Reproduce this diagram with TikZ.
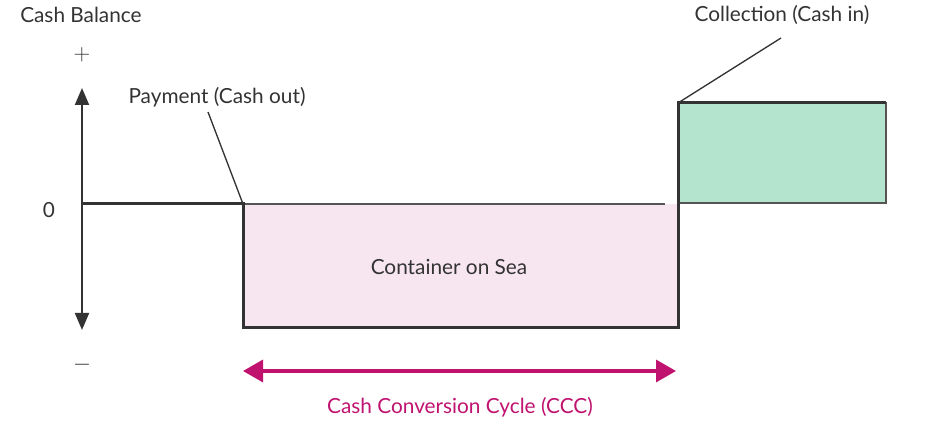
\documentclass[tikz,border=0pt]{standalone}
\usepackage{fontspec}
\setmainfont{Lato}
\usetikzlibrary{arrows.meta,positioning}
\definecolor{inkgray}{HTML}{333333}
\definecolor{edgegray}{HTML}{555555}
\definecolor{seapink}{HTML}{F7E6F0}
\definecolor{cashgreen}{HTML}{B5E4CE}
\definecolor{cccmagenta}{HTML}{C0126F}

\begin{document}
\begin{tikzpicture}[x=0.75pt,y=-0.75pt,
  lbl/.style={font=\fontsize{15.6}{18}\selectfont,text=inkgray,inner sep=0pt},
  sign/.style={font=\fontsize{17}{18}\selectfont,text=inkgray,inner sep=0pt},
  heavy/.style={draw=inkgray,line width=2.25pt},
  leader/.style={draw=inkgray,line width=1pt},
  axisline/.style={draw=inkgray,line width=1.5pt,{Triangle[width=10.5pt,length=12.75pt]}-{Triangle[width=10.5pt,length=12.75pt]}},
  cycle/.style={draw=cccmagenta,line width=2.6pt,{Triangle[width=16.5pt,length=15pt]}-{Triangle[width=16.5pt,length=15pt]}}]
\useasboundingbox (0,0) rectangle (946,423);

% boxes
\fill[seapink] (243,204) rectangle (678,328);
\draw[edgegray,line width=0.8pt] (243,204) -- (665,204);
\fill[cashgreen] (678,103) rectangle (886,203);
\draw[edgegray,line width=1pt] (678,103) -- (886,103) -- (886,203) -- (678,203);

% cash path
\coordinate (origin) at (82,204);
\coordinate (pay) at (243,204);
\coordinate (paylow) at (243,328);
\coordinate (collow) at (678,328);
\coordinate (collect) at (678,103);
\coordinate (greenend) at (886,103);
\draw[heavy,line join=miter] (origin) -- (pay) -- (paylow) -- (collow) -- (collect) -- (greenend);

% axis
\coordinate (axtop) at (82,88);
\coordinate (axbot) at (82,330);
\draw[axisline] (axtop) -- (axbot);
\node[lbl,anchor=west] (balance) at (20,15) {Cash Balance};
\node[sign] (plus) at (82,55) {$+$};
\node[lbl] (zero) at (49,210) {0};
\node[sign] (minus) at (82,365) {$-$};

% labels
\node[lbl] (paylbl) at (217,97) {Payment (Cash out)};
\coordinate (paytail) at (208,112);
\draw[leader] (paytail) -- (pay);
\node[lbl] (collbl) at (782,15) {Collection (Cash in)};
\coordinate (coltail) at (781,38);
\draw[leader] (coltail) -- (collect);
\node[lbl] (sea) at (449,267) {Container on Sea};

% conversion cycle
\coordinate (cccleft) at (243,371);
\coordinate (cccright) at (676,371);
\draw[cycle] (cccleft) -- (cccright);
\node[lbl,text=cccmagenta] (ccc) at (460,407) {Cash Conversion Cycle (CCC)};

\end{tikzpicture}
\end{document}
